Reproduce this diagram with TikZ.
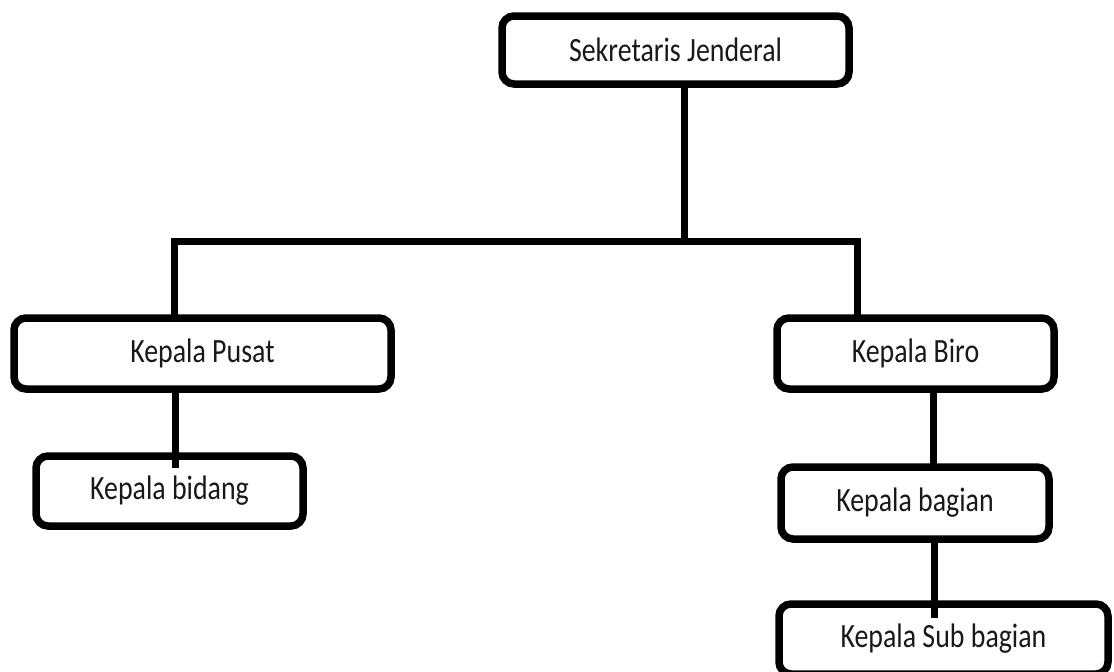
\documentclass[tikz,border=0pt]{standalone}
\usepackage{fontspec}
\setmainfont[FakeStretch=0.82]{Carlito}
\begin{document}
\begin{tikzpicture}[x=1pt,y=-1pt,
  box/.style={draw=black, line width=7.5pt, rounded corners=12pt, fill=white,
    inner sep=0pt, outer sep=0pt, text=black!90,
    font=\fontsize{34}{40}\selectfont},
  link/.style={draw=black, line width=7pt}]
\useasboundingbox (0,0) rectangle (1114,672);
\clip (0,0) rectangle (1114,672);
\fill[white] (0,0) rectangle (1114,672);
% nodes
\node[box, minimum width=347pt, minimum height=68pt] (sj) at (675.5,50) {Sekretaris Jenderal};
\node[box, minimum width=377pt, minimum height=71pt] (kp) at (202.5,353.5) {Kepala Pusat};
\node[box, minimum width=267pt, minimum height=70pt] (kbid) at (169.5,491) {Kepala bidang};
\node[box, minimum width=277pt, minimum height=71pt] (kbiro) at (915.5,353.5) {Kepala Biro};
\node[box, minimum width=268pt, minimum height=72pt] (kbag) at (915,503) {Kepala bagian};
\node[box, minimum width=329pt, minimum height=70pt] (ksub) at (943.5,639) {Kepala Sub bagian};
% connector coordinates
\coordinate (j) at (684,241);
\coordinate (jl) at (174,241);
\coordinate (jr) at (857,241);
\coordinate (c1) at (175,468);
\coordinate (c2) at (933,467);
\coordinate (c3) at (934,618);
% connectors
\draw[link] (sj.south -| j) -- (j);
\draw[link, line join=miter] (kp.north -| jl) -- (jl) -- (jr) -- (kbiro.north -| jr);
\draw[link] (kp.south -| c1) -- (c1);
\draw[link] (kbiro.south -| c2) -- (c2);
\draw[link] (kbag.south -| c3) -- (c3);
\end{tikzpicture}
\end{document}
